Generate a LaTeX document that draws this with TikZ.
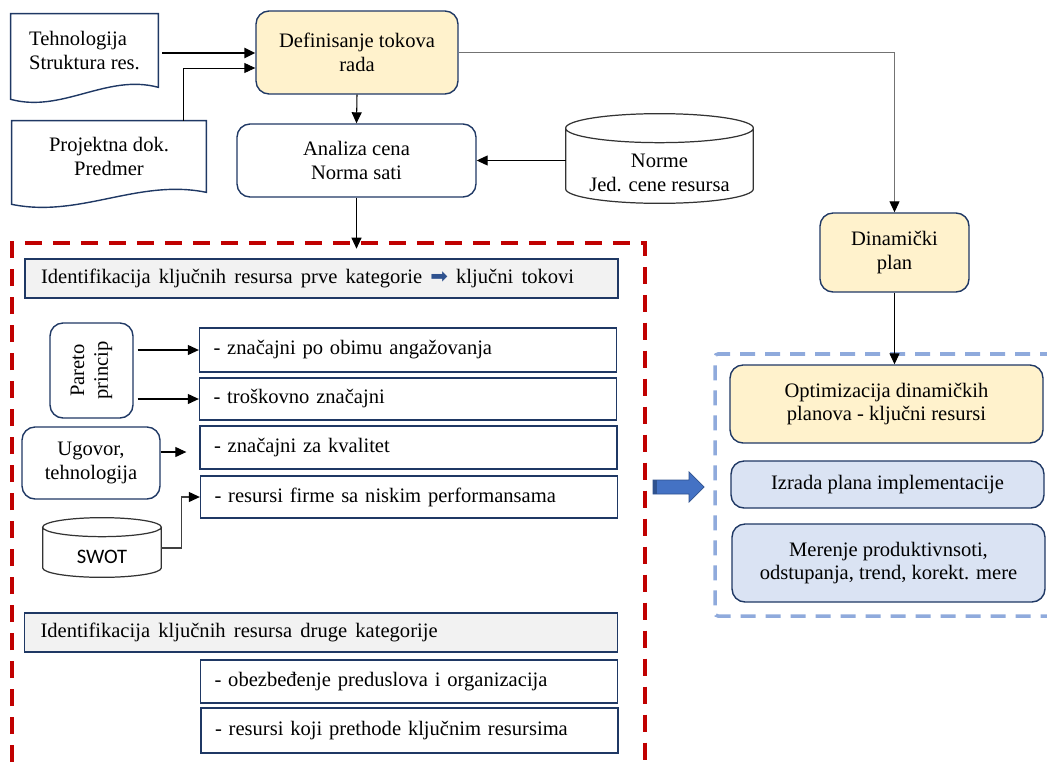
\documentclass[tikz,border=0pt]{standalone}
\usepackage{graphicx}
\usepackage{fontspec}
\setmainfont{Liberation Serif}
\newfontfamily\calibri{Carlito}
\newfontfamily\dejavu{DejaVu Sans}
\usetikzlibrary{arrows.meta,calc}
\definecolor{navy}{HTML}{1F3864}
\definecolor{paleyellow}{HTML}{FFF2CC}
\definecolor{paleblue}{HTML}{DAE3F3}
\definecolor{palegray}{HTML}{F2F2F2}
\definecolor{darkred}{HTML}{C00000}
\definecolor{dashblue}{HTML}{8FAADC}
\definecolor{arrowblue}{HTML}{4472C4}
\definecolor{edgeblue}{HTML}{2F528F}
\tikzset{
  every node/.style={font=\fontsize{11.7}{13.6}\selectfont},
  docbox/.style={inner sep=0pt, align=center},
  sqbox/.style={draw=navy, line width=0.8pt, inner sep=0pt, align=center},
  rbox/.style={sqbox, rounded corners=0.26cm},
  yellowbox/.style={rbox, fill=paleyellow},
  bluebox/.style={rbox, fill=paleblue},
  listbox/.style={sqbox, fill=white, align=left, inner xsep=0.28cm, text width=7.78cm, minimum width=8.34cm},
  headbox/.style={sqbox, fill=palegray, align=left, inner xsep=0.32cm, text width=11.22cm, minimum width=11.86cm, minimum height=0.78cm,
    execute at begin node={\spaceskip=0.4em plus 0.1em\relax}},
  docline/.style={draw=navy, line width=0.8pt},
  drumline/.style={draw=black!80, line width=0.7pt},
  arr/.style={-{Triangle[length=0.22cm,width=0.2cm,color=black]}, line width=0.6pt},
}
\newcommand\drum[2]{%
  \draw[drumline] let \p1=(#1.north west), \p2=(#1.south east) in
    ({(\x1+\x2)/2},{\y1+#2}) ellipse [x radius={(\x2-\x1)/2}, y radius=#2]
    (\x1,{\y1+#2}) -- (\x1,{\y2+#2})
    arc [start angle=180, end angle=360, x radius={(\x2-\x1)/2}, y radius=#2]
    -- (\x2,{\y1+#2});}
\begin{document}
\begin{tikzpicture}[x=0.02cm,y=-0.02cm]
  \useasboundingbox (0,0) rectangle (1047,767);
  \clip (0,0) rectangle (1047,767);

  \draw[darkred, line width=2.3pt, dash pattern=on 0.34cm off 0.22cm]
    (12,790) -- (12,243) -- (645,243) -- (645,790);
  \draw[dashblue, line width=2pt, dash pattern=on 0.3cm off 0.2cm, rounded corners=0.06cm]
    (1080,354) -- (715,354) -- (715,616) -- (1080,616);

  \node[docbox, minimum width=2.94cm, minimum height=1.46cm, align=left] (tech) at (84.5,50.5) {Tehnologija\\Struktura res.};
  \node[docbox, minimum width=3.88cm, minimum height=1.42cm] (proj) at (109,156.5) {Projektna dok.\\Predmer};
  \foreach \d in {tech,proj}
    \draw[docline] ($(\d.south west)+(0,12)$) -- (\d.north west) -- (\d.north east) -- (\d.south east)
      .. controls ($(\d.south west)!0.65!(\d.south east)+(0,-14)$) and ($(\d.south west)!0.35!(\d.south east)+(0,26)$)
      .. ($(\d.south west)+(0,12)$) -- cycle;

  \node[yellowbox, minimum width=4.04cm, minimum height=1.66cm] (def) at (357,52.5) {Definisanje tokova\\rada};
  \node[rbox, fill=white, minimum width=4.78cm, minimum height=1.46cm] (ana) at (356.5,160.5) {Analiza cena\\Norma sati};
  \node[docbox, minimum width=3.74cm, minimum height=1.2cm] (norme) at (659.5,173) {Norme\\Jed. cene resursa};
  \drum{norme}{0.29cm}
  \node[yellowbox, minimum width=2.98cm, minimum height=1.58cm] (din) at (894.5,252.5) {Dinamički\\plan};

  \node[yellowbox, minimum width=6.26cm, minimum height=1.56cm] (opt) at (886.5,404) {Optimizacija dinamičkih\\planova - ključni resursi};
  \node[bluebox, minimum width=6.26cm, minimum height=0.94cm] (izr) at (887.5,484.5) {Izrada plana implementacije};
  \node[bluebox, minimum width=6.26cm, minimum height=1.56cm] (mer) at (888.5,563) {Merenje produktivnsoti,\\odstupanja, trend, korekt. mere};

  \node[headbox] (head1) at (321.5,278.5) {Identifikacija ključnih resursa prve kategorie {\dejavu\color{edgeblue}\fontsize{12}{12}\selectfont ➡} ključni tokovi};
  \node[rbox, fill=white, minimum width=1.66cm, minimum height=1.9cm] (pareto) at (91.5,370.5) {\rotatebox{90}{\parbox{1.8cm}{\centering Pareto\\princip}}};
  \node[listbox, minimum height=0.88cm] (imp1) at (408,350) {- značajni po obimu angažovanja};
  \node[listbox, minimum height=0.84cm] (imp2) at (408,399) {- troškovno značajni};
  \node[listbox, minimum height=0.86cm] (imp3) at (408.5,447.5) {- značajni za kvalitet};
  \node[listbox, minimum height=0.84cm] (imp4) at (409,497) {- resursi firme sa niskim performansama};
  \node[rbox, fill=white, minimum width=2.76cm, minimum height=1.44cm] (ugovor) at (91,463) {Ugovor,\\tehnologija};
  \node[docbox, minimum width=2.36cm, minimum height=0.8cm, font=\calibri\fontsize{11.7}{13.6}\selectfont] (swot) at (102,557) {SWOT};
  \drum{swot}{0.19cm}

  \node[headbox] (head2) at (321,632.5) {Identifikacija ključnih resursa druge kategorije};
  \node[listbox, minimum height=0.86cm] (sec1) at (409,681.5) {- obezbeđenje preduslova i organizacija};
  \node[listbox, minimum height=0.9cm] (sec2) at (409.5,730.5) {- resursi koji prethode ključnim resursima};

  \coordinate (redin) at ($(ana.south)+(0,51)$);
  \coordinate (ugend) at ($(imp3.west)+(-13,4.5)$);

  \begin{scope}[arr]
    \draw[line width=1.4pt] ($(tech.east)+(4,2.5)$) -- ($(def.west)+(0,0.5)$);
    \draw[line width=0.5pt] ($(proj.north)+(74,0)$) |- ($(def.west)+(0,15.5)$);
    \draw (def.south) to (ana.north);
    \draw (norme.west |- ana.east) -- (ana.east);
    \draw[draw=black!55] (def.east) -| (din.north);
    \draw (din.south) -- (din.south |- opt.north);
    \draw (ana.south) to (redin);
    \draw ($(pareto.east |- imp1.west)+(4,0)$) -- (imp1.west);
    \draw ($(pareto.east |- imp2.west)+(4,0)$) -- (imp2.west);
    \draw (ugovor.east |- ugend) -- (ugend);
    \draw[draw=black!75] ($(swot.east)+(0,-9)$) -- ++(20,0) |- (imp4.west);
  \end{scope}

  \fill[arrowblue, draw=edgeblue, line width=0.4pt]
    (653,480) -- (689,480) -- (689,472) -- (704,487) -- (689,502) -- (689,494) -- (653,494) -- cycle;
  \fill[edgeblue] (653,480) rectangle (657,494);
\end{tikzpicture}
\end{document}
